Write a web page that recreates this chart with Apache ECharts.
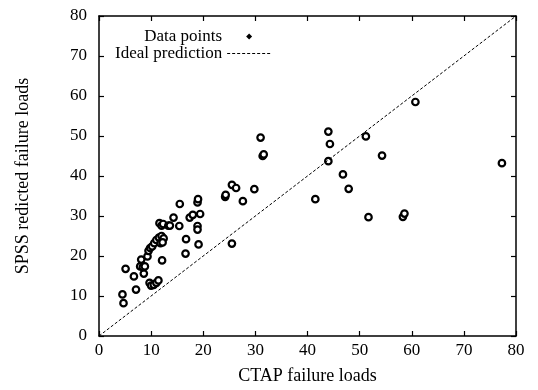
<!DOCTYPE html>
<html><head><meta charset="utf-8">
<script src="https://cdn.jsdelivr.net/npm/echarts@6/dist/echarts.min.js"></script>
<style>html,body{margin:0;padding:0;background:#fff}#c{width:538px;height:390px}</style>
</head><body><div id="c"></div>
<script>
const ctapLoads = [4.5,4.7,5.1,6.7,7.1,8.1,8.6,7.9,8.4,8.8,9.3,9.5,9.8,10.2,9.7,10.0,10.5,11.0,11.4,10.6,11.0,11.5,12.0,12.4,11.8,12.2,12.1,11.6,12.0,12.3,13.3,13.6,14.3,15.5,15.4,16.7,16.6,17.4,18.0,18.9,19.0,19.4,18.9,18.9,19.1,24.2,24.3,25.5,26.3,27.6,29.8,31.0,31.4,31.6,41.5,44.0,44.3,44.0,46.8,47.9,51.2,54.3,51.7,58.3,58.6,60.7,77.3,25.5];
const spssLoads = [10.4,8.2,16.8,14.9,11.6,19.1,15.6,17.4,17.2,17.4,19.9,21.3,22.0,22.4,13.3,12.6,12.8,13.3,13.9,23.2,24.0,24.6,25.0,24.4,23.2,23.4,18.9,28.2,27.6,28.0,27.6,27.6,29.6,33.0,27.5,24.2,20.6,29.6,30.3,33.4,34.2,30.5,27.5,26.6,22.9,34.8,35.3,37.8,37.0,33.7,36.7,49.6,45.0,45.4,34.2,51.1,48.0,43.7,40.4,36.8,49.9,45.1,29.7,29.8,30.6,58.5,43.2,23.1];
const idealLine = [[0,0],[80,80]];
const xTicks = [0,10,20,30,40,50,60,70,80];
const yTicks = [0,10,20,30,40,50,60,70,80];
const seriesNames = ['Data points','Ideal prediction'];
const xTitle = 'CTAP failure loads';
const yTitle = 'SPSS redicted failure loads';

const pts = ctapLoads.map((x,i)=>[x, spssLoads[i]]);
const font = 'Liberation Serif';
const axisBase = {
  type:'value', min:0, max:80, interval:10,
  axisLine:{show:true, onZero:false, lineStyle:{color:'#000', width:1.5}},
  axisTick:{show:true, inside:true, length:5, lineStyle:{color:'#000', width:1.2}},
  splitLine:{show:false}
};
// legend icons: small diamond / dashed line inside a 44x10 box (moveTo points fix the box)
const diamondIcon = 'path://M0,0M44,10M22,2L25,5L22,8L19,5Z';
let dashPath = 'path://M0,0M44,10';
for (let x = 0; x < 44; x += 5) dashPath += 'M' + x + ',4.5L' + (x + 3) + ',4.5L' + (x + 3) + ',5.5L' + x + ',5.5Z';
const chart = echarts.init(document.getElementById('c'), null, {renderer:'canvas'});
chart.setOption({
  animation:false,
  backgroundColor:'#fff',
  grid:{left:99, right:22, top:16, bottom:50, containLabel:false},
  legend:{
    orient:'vertical', align:'right', left:110, top:23, itemGap:0,
    itemWidth:44, itemHeight:10,
    textStyle:{fontFamily:font, fontSize:17, color:'#000'},
    data:[{name:seriesNames[0], icon:diamondIcon, itemStyle:{color:'#000', borderWidth:0}},
          {name:seriesNames[1], icon:dashPath, itemStyle:{color:'#000', borderWidth:0}}]
  },
  xAxis:[
    Object.assign({}, axisBase, {position:'bottom',
      name:xTitle, nameLocation:'middle', nameGap:31,
      nameTextStyle:{fontFamily:font, fontSize:18, color:'#000'},
      axisLabel:{fontFamily:font, fontSize:17, color:'#000', margin:6,
        formatter:v=>xTicks.includes(v)?String(v):''}}),
    Object.assign({}, axisBase, {position:'top', axisLabel:{show:false}})
  ],
  yAxis:[
    Object.assign({}, axisBase, {position:'left',
      name:yTitle, nameLocation:'middle', nameGap:67, nameRotate:90,
      nameTextStyle:{fontFamily:font, fontSize:18, color:'#000'},
      axisLabel:{fontFamily:font, fontSize:17, color:'#000', margin:12,
        formatter:v=>yTicks.includes(v)?String(v):''}}),
    Object.assign({}, axisBase, {position:'right', axisLabel:{show:false}})
  ],
  series:[
    {name:seriesNames[0], type:'scatter', data:pts, symbol:'circle', symbolSize:6.5,
     itemStyle:{color:'#fff', borderColor:'#000', borderWidth:2.2, opacity:1}},
    {name:seriesNames[1], type:'line', data:idealLine, symbol:'none',
     lineStyle:{color:'#000', width:1, type:[3,2]}, itemStyle:{color:'#000'}},
    {name:'frame', type:'scatter', xAxisIndex:1, yAxisIndex:1, data:[], silent:true}
  ]
});
</script></body></html>
